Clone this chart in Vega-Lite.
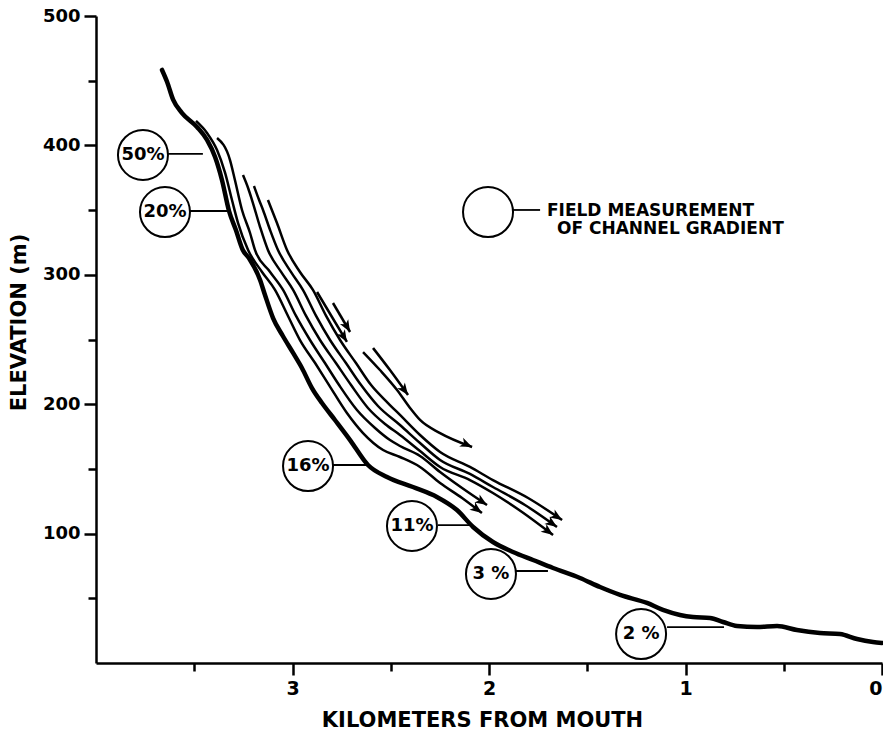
{
  "$schema": "https://vega.github.io/schema/vega-lite/v6.json",
  "width": 786,
  "height": 647,
  "autosize": {"type": "none"},
  "padding": {"left": 96, "top": 16, "right": 1, "bottom": 69},
  "background": "white",
  "config": {"view": {"stroke": null}, "font": "DejaVu Sans"},
  "datasets": {
    "profile": [
      {"km": 3.664, "elev": 458.3}, {"km": 3.638, "elev": 449.0}, {"km": 3.607, "elev": 435.1}, {"km": 3.562, "elev": 425.0},
      {"km": 3.486, "elev": 414.2}, {"km": 3.435, "elev": 404.2}, {"km": 3.394, "elev": 391.0}, {"km": 3.359, "elev": 373.3},
      {"km": 3.323, "elev": 349.3}, {"km": 3.288, "elev": 334.6}, {"km": 3.253, "elev": 319.2}, {"km": 3.222, "elev": 313.0},
      {"km": 3.165, "elev": 296.0}, {"km": 3.140, "elev": 284.4}, {"km": 3.099, "elev": 266.6}, {"km": 3.049, "elev": 252.7},
      {"km": 2.997, "elev": 239.6}, {"km": 2.952, "elev": 228.0}, {"km": 2.901, "elev": 212.5}, {"km": 2.850, "elev": 200.9},
      {"km": 2.784, "elev": 187.8}, {"km": 2.707, "elev": 172.3}, {"km": 2.616, "elev": 153.0}, {"km": 2.519, "elev": 143.7},
      {"km": 2.387, "elev": 136.0}, {"km": 2.265, "elev": 128.3}, {"km": 2.163, "elev": 118.2}, {"km": 2.081, "elev": 105.1},
      {"km": 1.980, "elev": 93.5}, {"km": 1.878, "elev": 85.8}, {"km": 1.776, "elev": 79.6}, {"km": 1.674, "elev": 73.4},
      {"km": 1.537, "elev": 65.7}, {"km": 1.435, "elev": 58.7}, {"km": 1.333, "elev": 52.6}, {"km": 1.196, "elev": 46.4},
      {"km": 1.115, "elev": 41.0}, {"km": 1.028, "elev": 37.1}, {"km": 0.962, "elev": 35.5}, {"km": 0.875, "elev": 34.8},
      {"km": 0.809, "elev": 31.7}, {"km": 0.738, "elev": 28.6}, {"km": 0.636, "elev": 27.8}, {"km": 0.534, "elev": 28.6},
      {"km": 0.433, "elev": 25.5}, {"km": 0.316, "elev": 23.2}, {"km": 0.214, "elev": 22.4}, {"km": 0.127, "elev": 18.5},
      {"km": 0.046, "elev": 16.2}, {"km": 0.0, "elev": 15.5}
    ],
    "flow": [
      {"line": "t1", "km": 3.491, "elev": 418.9}, {"line": "t1", "km": 3.435, "elev": 409.6}, {"line": "t1", "km": 3.384, "elev": 396.4},
      {"line": "t1", "km": 3.343, "elev": 378.7}, {"line": "t1", "km": 3.308, "elev": 357.8}, {"line": "t1", "km": 3.277, "elev": 340.0},
      {"line": "t1", "km": 3.226, "elev": 319.2}, {"line": "t1", "km": 3.155, "elev": 302.2}, {"line": "t1", "km": 3.089, "elev": 288.3},
      {"line": "t1", "km": 3.023, "elev": 268.2}, {"line": "t1", "km": 2.962, "elev": 249.6}, {"line": "t1", "km": 2.885, "elev": 231.8},
      {"line": "t1", "km": 2.814, "elev": 214.8}, {"line": "t1", "km": 2.723, "elev": 193.2}, {"line": "t1", "km": 2.641, "elev": 177.7},
      {"line": "t1", "km": 2.539, "elev": 164.6}, {"line": "t1", "km": 2.453, "elev": 159.2}, {"line": "t1", "km": 2.351, "elev": 151.5},
      {"line": "t1", "km": 2.249, "elev": 139.1}, {"line": "t1", "km": 2.137, "elev": 127.5}, {"line": "t1", "km": 2.036, "elev": 115.9},

      {"line": "t2", "km": 3.384, "elev": 405.7}, {"line": "t2", "km": 3.318, "elev": 388.7}, {"line": "t2", "km": 3.293, "elev": 373.3},
      {"line": "t2", "km": 3.257, "elev": 350.1}, {"line": "t2", "km": 3.216, "elev": 332.3}, {"line": "t2", "km": 3.191, "elev": 319.2},
      {"line": "t2", "km": 3.114, "elev": 302.2}, {"line": "t2", "km": 3.048, "elev": 288.3}, {"line": "t2", "km": 2.982, "elev": 268.2},
      {"line": "t2", "km": 2.911, "elev": 249.6}, {"line": "t2", "km": 2.835, "elev": 231.8}, {"line": "t2", "km": 2.763, "elev": 214.8},
      {"line": "t2", "km": 2.672, "elev": 195.5}, {"line": "t2", "km": 2.580, "elev": 181.6}, {"line": "t2", "km": 2.504, "elev": 172.3},
      {"line": "t2", "km": 2.453, "elev": 167.7}, {"line": "t2", "km": 2.351, "elev": 160.0}, {"line": "t2", "km": 2.249, "elev": 147.6},
      {"line": "t2", "km": 2.137, "elev": 135.2}, {"line": "t2", "km": 2.010, "elev": 122.1},

      {"line": "t3", "km": 3.252, "elev": 377.1}, {"line": "t3", "km": 3.226, "elev": 367.1}, {"line": "t3", "km": 3.206, "elev": 357.8},
      {"line": "t3", "km": 3.165, "elev": 336.9}, {"line": "t3", "km": 3.125, "elev": 319.2}, {"line": "t3", "km": 3.058, "elev": 302.2},
      {"line": "t3", "km": 2.997, "elev": 288.3}, {"line": "t3", "km": 2.931, "elev": 268.2}, {"line": "t3", "km": 2.860, "elev": 249.6},
      {"line": "t3", "km": 2.779, "elev": 231.8}, {"line": "t3", "km": 2.702, "elev": 214.8}, {"line": "t3", "km": 2.616, "elev": 197.1},
      {"line": "t3", "km": 2.529, "elev": 184.7}, {"line": "t3", "km": 2.453, "elev": 176.2}, {"line": "t3", "km": 2.351, "elev": 163.8},
      {"line": "t3", "km": 2.249, "elev": 151.5}, {"line": "t3", "km": 2.097, "elev": 141.4}, {"line": "t3", "km": 1.980, "elev": 131.4},
      {"line": "t3", "km": 1.832, "elev": 116.7}, {"line": "t3", "km": 1.674, "elev": 98.9},

      {"line": "t4", "km": 3.196, "elev": 368.6}, {"line": "t4", "km": 3.170, "elev": 357.8}, {"line": "t4", "km": 3.150, "elev": 350.1},
      {"line": "t4", "km": 3.114, "elev": 334.6}, {"line": "t4", "km": 3.074, "elev": 319.2}, {"line": "t4", "km": 3.008, "elev": 302.2},
      {"line": "t4", "km": 2.947, "elev": 288.3}, {"line": "t4", "km": 2.880, "elev": 268.2}, {"line": "t4", "km": 2.809, "elev": 249.6},
      {"line": "t4", "km": 2.728, "elev": 231.8}, {"line": "t4", "km": 2.651, "elev": 214.8}, {"line": "t4", "km": 2.565, "elev": 198.6},
      {"line": "t4", "km": 2.453, "elev": 183.9}, {"line": "t4", "km": 2.351, "elev": 170.0}, {"line": "t4", "km": 2.249, "elev": 156.9},
      {"line": "t4", "km": 2.097, "elev": 146.1}, {"line": "t4", "km": 1.980, "elev": 136.0}, {"line": "t4", "km": 1.817, "elev": 122.1},
      {"line": "t4", "km": 1.654, "elev": 105.1},

      {"line": "t5", "km": 3.125, "elev": 357.8}, {"line": "t5", "km": 3.079, "elev": 340.0}, {"line": "t5", "km": 3.028, "elev": 319.2},
      {"line": "t5", "km": 2.962, "elev": 302.2}, {"line": "t5", "km": 2.896, "elev": 288.3}, {"line": "t5", "km": 2.829, "elev": 268.2},
      {"line": "t5", "km": 2.758, "elev": 249.6}, {"line": "t5", "km": 2.677, "elev": 231.8}, {"line": "t5", "km": 2.600, "elev": 214.8},
      {"line": "t5", "km": 2.514, "elev": 200.9}, {"line": "t5", "km": 2.453, "elev": 191.7}, {"line": "t5", "km": 2.351, "elev": 176.2},
      {"line": "t5", "km": 2.249, "elev": 163.1}, {"line": "t5", "km": 2.097, "elev": 151.5}, {"line": "t5", "km": 1.980, "elev": 141.4},
      {"line": "t5", "km": 1.801, "elev": 127.5}, {"line": "t5", "km": 1.628, "elev": 110.5},

      {"line": "a", "km": 2.875, "elev": 286.7}, {"line": "a", "km": 2.799, "elev": 267.4}, {"line": "a", "km": 2.723, "elev": 248.1},
      {"line": "b", "km": 2.794, "elev": 278.2}, {"line": "b", "km": 2.707, "elev": 255.8},
      {"line": "c", "km": 2.590, "elev": 243.4}, {"line": "c", "km": 2.504, "elev": 226.4}, {"line": "c", "km": 2.412, "elev": 207.1},
      {"line": "d", "km": 2.641, "elev": 240.3}, {"line": "d", "km": 2.555, "elev": 226.4}, {"line": "d", "km": 2.468, "elev": 211.0},
      {"line": "d", "km": 2.402, "elev": 197.1}, {"line": "d", "km": 2.351, "elev": 187.8}, {"line": "d", "km": 2.249, "elev": 177.7},
      {"line": "d", "km": 2.086, "elev": 166.9}
    ],
    "heads": [
      {"line": "t1", "km": 2.036, "elev": 115.9, "dir": 36},
      {"line": "t2", "km": 2.010, "elev": 122.1, "dir": 33},
      {"line": "t3", "km": 1.674, "elev": 98.9, "dir": 37},
      {"line": "t4", "km": 1.654, "elev": 105.1, "dir": 35},
      {"line": "t5", "km": 1.628, "elev": 110.5, "dir": 33},
      {"line": "a", "km": 2.723, "elev": 248.1, "dir": 59},
      {"line": "b", "km": 2.707, "elev": 255.8, "dir": 60},
      {"line": "c", "km": 2.412, "elev": 207.1, "dir": 54},
      {"line": "d", "km": 2.086, "elev": 166.9, "dir": 24}
    ],
    "leaders": [
      {"x1": 3.634, "x2": 3.456, "elev": 393.4},
      {"x1": 3.522, "x2": 3.333, "elev": 349.3},
      {"x1": 2.794, "x2": 2.621, "elev": 153.0},
      {"x1": 2.260, "x2": 2.097, "elev": 106.6},
      {"x1": 1.863, "x2": 1.700, "elev": 71.1},
      {"x1": 1.094, "x2": 0.804, "elev": 27.8},
      {"x1": 1.878, "x2": 1.740, "elev": 350.1}
    ],
    "circles": [
      {"km": 3.761, "elev": 392.6, "label": "50%"},
      {"km": 3.649, "elev": 348.5, "label": "20%"},
      {"km": 2.921, "elev": 152.2, "label": "16%"},
      {"km": 2.392, "elev": 105.9, "label": "11%"},
      {"km": 1.990, "elev": 68.8, "label": "3 %"},
      {"km": 1.226, "elev": 22.4, "label": "2 %"},
      {"km": 2.005, "elev": 348.5, "label": ""}
    ],
    "legendText": [
      {"km": 1.705, "elev": 349.5, "text": "FIELD MEASUREMENT"},
      {"km": 1.654, "elev": 335.4, "text": "OF CHANNEL GRADIENT"}
    ]
  },
  "layer": [
    {
      "data": {"name": "profile"},
      "mark": {"type": "line", "color": "black", "strokeWidth": 4.5, "strokeCap": "round", "strokeJoin": "round", "interpolate": "monotone"},
      "encoding": {
        "x": {
          "field": "km", "type": "quantitative",
          "scale": {"domain": [0, 4], "reverse": true, "nice": false, "zero": false},
          "axis": {
            "title": "KILOMETERS FROM MOUTH",
            "values": [3.5, 3, 2.5, 2, 1.5, 1, 0.5, 0],
            "labelExpr": "datum.value % 1 === 0 ? format(datum.value, 'd') : ''",
            "tickSize": {"condition": {"test": "datum.value % 1 !== 0", "value": 8}, "value": 12},
            "tickWidth": 2.5, "tickColor": "black",
            "domainColor": "black", "domainWidth": 2.5,
            "grid": false,
            "labelFont": "DejaVu Sans", "labelFontSize": 19, "labelFontWeight": "bold", "labelColor": "black", "labelPadding": 4,
            "labelFlush": true, "labelOverlap": false,
            "titleFont": "DejaVu Sans", "titleFontSize": 21, "titleFontWeight": "bold", "titleColor": "black",
            "titleX": 386, "titleY": 57, "titleAlign": "center", "titleBaseline": "middle"
          }
        },
        "y": {
          "field": "elev", "type": "quantitative",
          "scale": {"domain": [0, 500], "nice": false, "zero": false},
          "axis": {
            "title": "ELEVATION (m)",
            "values": [50, 100, 150, 200, 250, 300, 350, 400, 450, 500],
            "labelExpr": "datum.value % 100 === 0 ? format(datum.value, 'd') : ''",
            "tickSize": {"condition": {"test": "datum.value % 100 !== 0", "value": 8}, "value": 12},
            "tickWidth": 2.5, "tickColor": "black",
            "domainColor": "black", "domainWidth": 2.5,
            "grid": false,
            "labelFont": "DejaVu Sans", "labelFontSize": 18, "labelFontWeight": "bold", "labelColor": "black", "labelPadding": 4,
            "labelFlush": false, "labelOverlap": false,
            "titleFont": "DejaVu Sans", "titleFontSize": 21, "titleFontWeight": "bold", "titleColor": "black",
            "titleX": -77, "titleY": 306, "titleAngle": -90, "titleAlign": "center", "titleBaseline": "middle"
          }
        }
      }
    },
    {
      "data": {"name": "flow"},
      "mark": {"type": "line", "color": "black", "strokeWidth": 2.5, "strokeCap": "butt", "strokeJoin": "round", "interpolate": "monotone"},
      "encoding": {
        "x": {"field": "km", "type": "quantitative"},
        "y": {"field": "elev", "type": "quantitative"},
        "detail": {"field": "line"}
      }
    },
    {
      "data": {"name": "heads"},
      "mark": {"type": "point", "shape": "M0,0L-1.5,-0.6L-1.1,0L-1.5,0.6Z", "filled": true, "color": "black", "size": 256, "opacity": 1},
      "encoding": {
        "x": {"field": "km", "type": "quantitative"},
        "y": {"field": "elev", "type": "quantitative"},
        "angle": {"field": "dir", "type": "quantitative", "scale": null}
      }
    },
    {
      "data": {"name": "leaders"},
      "mark": {"type": "rule", "color": "black", "strokeWidth": 1.8},
      "encoding": {
        "x": {"field": "x1", "type": "quantitative"},
        "x2": {"field": "x2"},
        "y": {"field": "elev", "type": "quantitative"}
      }
    },
    {
      "data": {"name": "circles"},
      "mark": {"type": "point", "shape": "circle", "size": 2500, "filled": true, "fill": "white", "stroke": "black", "strokeWidth": 2, "opacity": 1},
      "encoding": {
        "x": {"field": "km", "type": "quantitative"},
        "y": {"field": "elev", "type": "quantitative"}
      }
    },
    {
      "data": {"name": "circles"},
      "mark": {"type": "text", "fontSize": 18, "fontWeight": "bold", "font": "DejaVu Sans", "color": "black", "align": "center", "baseline": "middle"},
      "encoding": {
        "x": {"field": "km", "type": "quantitative"},
        "y": {"field": "elev", "type": "quantitative"},
        "text": {"field": "label"}
      }
    },
    {
      "data": {"name": "legendText"},
      "mark": {"type": "text", "fontSize": 17, "fontWeight": "bold", "font": "DejaVu Sans", "color": "black", "align": "left", "baseline": "middle"},
      "encoding": {
        "x": {"field": "km", "type": "quantitative"},
        "y": {"field": "elev", "type": "quantitative"},
        "text": {"field": "text"}
      }
    }
  ]
}
